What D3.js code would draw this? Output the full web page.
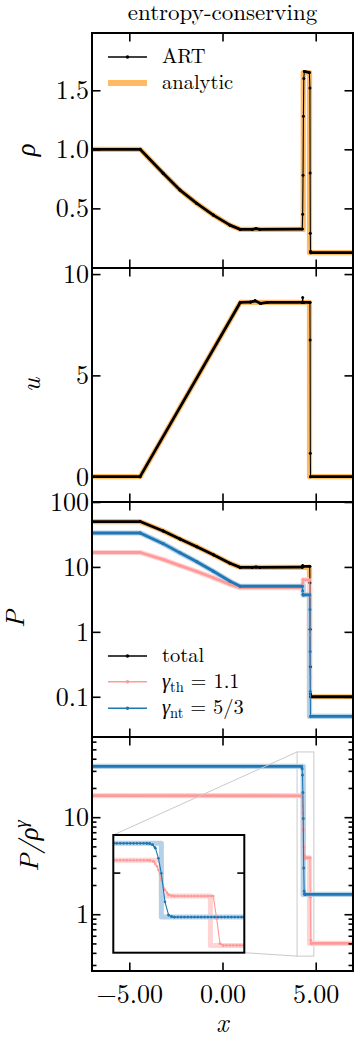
<!DOCTYPE html>
<html>
<head>
<meta charset="utf-8">
<script src="https://cdn.jsdelivr.net/npm/d3@7"></script>
<style>
  body { margin: 0; background: #fff; }
  svg { display: block; }
  svg text { font-family: "Latin Modern Roman", "Liberation Serif", serif !important; fill: #000; }
</style>
</head>
<body>
<svg id="chart" width="354" height="1039"></svg>
<script>
// ---------- shared x axis ----------
const xTicks = [-5, 0, 5];
const xTickLabels = ["\u22125.00", "0.00", "5.00"];

// ---------- density ----------
const rhoTicks = [0.5, 1.0, 1.5];
const rhoTickLabels = ["0.5", "1.0", "1.5"];
const rhoAnaX = [-7, -4.42, -3.18, -2.28, -1.38, -0.49, 0.40, 0.95, 4.33, 4.33, 4.667, 4.667, 7];
const rhoAnaY = [1, 1, 0.797, 0.655, 0.542, 0.443, 0.358, 0.322, 0.322, 1.65, 1.65, 0.125, 0.125];
const rhoArtX = [-7, -4.42, -3.18, -2.28, -1.38, -0.49, 0.40, 0.95, 1.6, 1.8, 2.0, 4.28, 4.30, 4.32, 4.34, 4.36, 4.39, 4.66, 4.69, 4.70, 4.71, 4.72, 4.74, 7];
const rhoArtY = [1, 1, 0.797, 0.655, 0.542, 0.443, 0.358, 0.322, 0.322, 0.328, 0.322, 0.325, 0.45, 0.78, 1.28, 1.60, 1.66, 1.65, 1.52, 0.80, 0.29, 0.135, 0.125, 0.125];

// ---------- velocity ----------
const uTicks = [0, 5, 10];
const uTickLabels = ["0", "5", "10"];
const uAnaX = [-7, -4.42, 0.95, 4.667, 4.667, 7];
const uAnaY = [0, 0, 8.6, 8.6, 0, 0];
const uArtX = [-7, -4.42, 0.95, 1.5, 1.75, 2.05, 2.4, 4.28, 4.30, 4.32, 4.34, 4.68, 4.69, 4.70, 4.71, 4.72, 7];
const uArtY = [0, 0, 8.6, 8.62, 8.68, 8.55, 8.6, 8.6, 8.85, 8.6, 8.6, 8.6, 8.6, 6.74, 1.16, 0, 0];

// ---------- pressure (total, thermal, non-thermal) ----------
const pTicks = [0.1, 1, 10, 100];
const pTickLabels = ["0.1", "1", "10", "100"];
const pTotAnaX = [-7, -4.42, -3.18, -2.28, -1.38, -0.49, 0.40, 0.95, 4.667, 4.667, 7];
const pTotAnaY = [50, 50, 35.8, 26.9, 20.5, 15.4, 11.4, 9.83, 9.83, 0.1, 0.1];
const pPartAnaX = [-7, -4.42, -3.18, -2.28, -1.38, -0.49, 0.40, 0.95, 4.33, 4.33, 4.667, 4.667, 7];
const pThAnaY = [16.67, 16.67, 12.98, 10.47, 8.50, 6.81, 5.38, 4.79, 4.79, 6.3, 6.3, 0.05, 0.05];
const pNtAnaY = [33.33, 33.33, 22.83, 16.47, 12.0, 8.57, 6.02, 5.04, 5.04, 3.7, 3.7, 0.05, 0.05];
const pTotArtX = [-7, -4.42, -3.18, -2.28, -1.38, -0.49, 0.40, 0.95, 1.6, 1.8, 2.0, 4.28, 4.30, 4.32, 4.68, 4.69, 4.70, 4.71, 4.72, 4.73, 7];
const pTotArtY = [50, 50, 35.8, 26.9, 20.5, 15.4, 11.4, 9.83, 9.83, 9.95, 9.83, 9.9, 10.4, 10.2, 10.2, 5.7, 1.1, 0.29, 0.11, 0.10, 0.10];
const pPartArtX = [-7, -4.42, -3.18, -2.28, -1.38, -0.49, 0.40, 0.95, 4.28, 4.30, 4.32, 4.34, 4.68, 4.69, 4.70, 4.71, 4.72, 7];
const pThArtY = [16.67, 16.67, 12.98, 10.47, 8.5, 6.81, 5.38, 4.79, 4.79, 5.6, 6.3, 6.3, 6.3, 3.5, 0.9, 0.2, 0.05, 0.05];
const pNtArtY = [33.33, 33.33, 22.83, 16.47, 12.0, 8.57, 6.02, 5.04, 5.04, 4.3, 3.75, 3.7, 3.7, 2.2, 0.5, 0.12, 0.05, 0.05];

// ---------- entropy proxy P / rho^gamma ----------
const kTicks = [1, 10];
const kTickLabels = ["1", "10"];
const kNtAnaX = [-7, 4.33, 4.33, 7];
const kNtAnaY = [33.33, 33.33, 1.6, 1.6];
const kThAnaX = [-7, 4.33, 4.33, 4.667, 4.667, 7];
const kThAnaY = [16.67, 16.67, 3.8, 3.8, 0.5, 0.5];
const kNtArtX = [-7, 4.23, 4.25, 4.27, 4.29, 4.31, 4.33, 4.355, 4.38, 4.40, 4.42, 7];
const kNtArtY = [33.33, 33.3, 33.0, 31.5, 27.2, 18.0, 9.7, 3.0, 1.74, 1.63, 1.6, 1.6];
const kThArtX = [-7, 4.25, 4.275, 4.30, 4.31, 4.33, 4.355, 4.38, 4.40, 4.42, 4.687, 4.71, 4.733, 4.755, 7];
const kThArtY = [16.67, 16.6, 16.0, 13.0, 11.1, 7.4, 4.9, 4.0, 3.85, 3.8, 3.8, 1.5, 0.54, 0.5, 0.5];

// zoomed window shown in the inset
const insetXDomain = [4.0, 4.9];
const insetYDomain = [0.37, 47];
const insetYTicks = [10];

// ---------- styling ----------
const C = {
  art: "#000000",
  ana: "#ffbb63",
  th: "#ff9a9a",
  thAna: "#ffd4d4",
  nt: "#1f77b4",
  ntAna: "#b3d1e8",
  zoom: "#c9c9c9"
};
const L = 92, R = 353;
const tickFont = 26;

const svg = d3.select("#chart");
const x = d3.scaleLinear([-7, 7], [L, R]);

const panels = [
  { top: 33,  bot: 268, y: d3.scaleLinear([-0.005, 1.985], [268, 33]), ticks: rhoTicks, labels: rhoTickLabels },
  { top: 268, bot: 502, y: d3.scaleLinear([-1.25, 10.3], [502, 268]), ticks: uTicks, labels: uTickLabels },
  { top: 502, bot: 737, y: d3.scaleLog([0.024, 100], [737, 502]), ticks: pTicks, labels: pTickLabels },
  { top: 737, bot: 971, y: d3.scaleLog([0.26, 67], [971, 737]), ticks: kTicks, labels: kTickLabels, minor: true, xLabels: true }
];

const defs = svg.append("defs");
panels.forEach((p, i) => {
  defs.append("clipPath").attr("id", "clip" + i)
    .append("rect").attr("x", L).attr("y", p.top).attr("width", R - L).attr("height", p.bot - p.top);
});

function pts(xs, ys) { return xs.map((v, i) => [v, ys[i]]); }

function anaLine(g, xs, ys, sx, sy, color, w) {
  g.append("path").datum(pts(xs, ys))
    .attr("d", d3.line().x(d => sx(d[0])).y(d => sy(d[1])))
    .attr("fill", "none").attr("stroke", color).attr("stroke-width", w)
    .attr("stroke-linejoin", "round");
}

// simulated profile: wide where cells crowd together, thin across jumps, a marker at each cell
function artLine(g, xs, ys, sx, sy, color, opt) {
  const P = pts(xs, ys).map(d => [sx(d[0]), sy(d[1])]);
  const segs = d3.pairs(P);
  const steep = s => Math.abs(s[1][1] - s[0][1]) > 5 * Math.abs(s[1][0] - s[0][0]);
  g.append("g").selectAll("line").data(segs).join("line")
    .attr("x1", d => d[0][0]).attr("y1", d => d[0][1])
    .attr("x2", d => d[1][0]).attr("y2", d => d[1][1])
    .attr("stroke", color)
    .attr("stroke-width", d => steep(d) ? opt.thin : opt.thick)
    .attr("stroke-linecap", "round");
  if (opt.dotted) {
    g.append("g").selectAll("line")
      .data(segs.filter(s => Math.abs(s[1][1] - s[0][1]) < 2 * Math.abs(s[1][0] - s[0][0])))
      .join("line")
      .attr("x1", d => d[0][0]).attr("y1", d => d[0][1])
      .attr("x2", d => d[1][0]).attr("y2", d => d[1][1])
      .attr("stroke", color).attr("stroke-width", 2.6)
      .attr("stroke-linecap", "round").attr("stroke-dasharray", "0 3.35");
  }
  g.append("g").selectAll("circle").data(P).join("circle")
    .attr("cx", d => d[0]).attr("cy", d => d[1]).attr("r", opt.r).attr("fill", color);
}
const mainArt = { thin: 1.1, thick: 2.8, r: 1.5 };

// ---------- panel contents ----------
const g0 = svg.append("g").attr("clip-path", "url(#clip0)");
anaLine(g0, rhoAnaX, rhoAnaY, x, panels[0].y, C.ana, 5.2);
artLine(g0, rhoArtX, rhoArtY, x, panels[0].y, C.art, mainArt);

const g1 = svg.append("g").attr("clip-path", "url(#clip1)");
anaLine(g1, uAnaX, uAnaY, x, panels[1].y, C.ana, 5.2);
artLine(g1, uArtX, uArtY, x, panels[1].y, C.art, mainArt);

const g2 = svg.append("g").attr("clip-path", "url(#clip2)");
anaLine(g2, pTotAnaX, pTotAnaY, x, panels[2].y, C.ana, 5.2);
anaLine(g2, pPartAnaX, pThAnaY, x, panels[2].y, C.thAna, 5.2);
anaLine(g2, pPartAnaX, pNtAnaY, x, panels[2].y, C.ntAna, 5.2);
artLine(g2, pTotArtX, pTotArtY, x, panels[2].y, C.art, mainArt);
artLine(g2, pPartArtX, pThArtY, x, panels[2].y, C.th, mainArt);
artLine(g2, pPartArtX, pNtArtY, x, panels[2].y, C.nt, mainArt);

const ky = panels[3].y;
const g3 = svg.append("g").attr("clip-path", "url(#clip3)");
// outline of the zoomed window
g3.append("rect")
  .attr("x", x(insetXDomain[0])).attr("y", ky(insetYDomain[1]))
  .attr("width", x(insetXDomain[1]) - x(insetXDomain[0]))
  .attr("height", ky(insetYDomain[0]) - ky(insetYDomain[1]))
  .attr("fill", "none").attr("stroke", C.zoom).attr("stroke-width", 1);
anaLine(g3, kThAnaX, kThAnaY, x, ky, C.thAna, 5.2);
anaLine(g3, kNtAnaX, kNtAnaY, x, ky, C.ntAna, 5.2);
artLine(g3, kThArtX, kThArtY, x, ky, C.th, mainArt);
artLine(g3, kNtArtX, kNtArtY, x, ky, C.nt, mainArt);

// ---------- axes and frames ----------
function styleAxis(g) {
  g.select(".domain").remove();
  g.selectAll(".tick line").attr("stroke", "#000").attr("stroke-width", 1.6);
  g.attr("font-size", tickFont);
  g.selectAll(".tick text").attr("fill", "#000");
}
panels.forEach(p => {
  svg.append("g").attr("transform", `translate(${L},0)`)
    .call(d3.axisLeft(p.y).tickValues(p.ticks).tickFormat((d, i) => p.labels[i]).tickSize(-8.5).tickPadding(3))
    .call(styleAxis);
  svg.append("g").attr("transform", `translate(${R},0)`)
    .call(d3.axisRight(p.y).tickValues(p.ticks).tickFormat("").tickSize(-8.5))
    .call(styleAxis);
  svg.append("g").attr("transform", `translate(0,${p.top})`)
    .call(d3.axisTop(x).tickValues(xTicks).tickFormat("").tickSize(-8.5))
    .call(styleAxis);
  svg.append("g").attr("transform", `translate(0,${p.bot})`)
    .call(d3.axisBottom(x).tickValues(xTicks)
      .tickFormat((d, i) => p.xLabels ? xTickLabels[i] : "").tickSize(-8.5).tickPadding(13.5))
    .call(styleAxis);
  if (p.minor) {
    const [lo, hi] = p.y.domain();
    const minorVals = p.y.ticks(20).filter(v => v >= lo && v <= hi && !p.ticks.includes(v));
    svg.append("g").attr("transform", `translate(${L},0)`)
      .call(d3.axisLeft(p.y).tickValues(minorVals).tickFormat("").tickSize(-4.5)).call(styleAxis);
    svg.append("g").attr("transform", `translate(${R},0)`)
      .call(d3.axisRight(p.y).tickValues(minorVals).tickFormat("").tickSize(-4.5)).call(styleAxis);
  }
  svg.append("rect").attr("x", L).attr("y", p.top).attr("width", R - L).attr("height", p.bot - p.top)
    .attr("fill", "none").attr("stroke", "#000").attr("stroke-width", 2);
});

// ---------- inset ----------
const IX0 = 113.3, IX1 = 244.3, IY0 = 835, IY1 = 952.7;
const ix = d3.scaleLinear(insetXDomain, [IX0, IX1]);
const iy = d3.scaleLog(insetYDomain, [IY1, IY0]);

// connector lines between window and inset
svg.append("line").attr("x1", IX0).attr("y1", IY0)
  .attr("x2", x(insetXDomain[0])).attr("y2", ky(insetYDomain[1]))
  .attr("stroke", C.zoom).attr("stroke-width", 1);
svg.append("line").attr("x1", IX1).attr("y1", IY1)
  .attr("x2", x(insetXDomain[0])).attr("y2", ky(insetYDomain[0]))
  .attr("stroke", C.zoom).attr("stroke-width", 1);

defs.append("clipPath").attr("id", "clipInset")
  .append("rect").attr("x", IX0).attr("y", IY0).attr("width", IX1 - IX0).attr("height", IY1 - IY0);
svg.append("rect").attr("x", IX0).attr("y", IY0).attr("width", IX1 - IX0).attr("height", IY1 - IY0)
  .attr("fill", "#fff");
const gi = svg.append("g").attr("clip-path", "url(#clipInset)");
anaLine(gi, kThAnaX, kThAnaY, ix, iy, C.thAna, 5);
anaLine(gi, kNtAnaX, kNtAnaY, ix, iy, C.ntAna, 5);
const insetArt = { thin: 1.1, thick: 1.1, r: 1.3, dotted: true };
artLine(gi, kThArtX, kThArtY, ix, iy, C.th, insetArt);
artLine(gi, kNtArtX, kNtArtY, ix, iy, C.nt, insetArt);
svg.append("g").attr("transform", `translate(${IX0},0)`)
  .call(d3.axisLeft(iy).tickValues(insetYTicks).tickFormat("").tickSize(-7)).call(styleAxis);
svg.append("g").attr("transform", `translate(${IX1},0)`)
  .call(d3.axisRight(iy).tickValues(insetYTicks).tickFormat("").tickSize(-7)).call(styleAxis);
svg.append("rect").attr("x", IX0).attr("y", IY0).attr("width", IX1 - IX0).attr("height", IY1 - IY0)
  .attr("fill", "none").attr("stroke", "#000").attr("stroke-width", 2);

// ---------- text ----------
svg.append("text").attr("x", (L + R) / 2).attr("y", 20).attr("text-anchor", "middle")
  .attr("font-size", 23).text("entropy-conserving");

function yLabel(xp, yp, build) {
  const t = svg.append("text").attr("transform", `translate(${xp},${yp}) rotate(-90)`)
    .attr("text-anchor", "middle").attr("font-size", 26.5).attr("font-style", "italic");
  build(t);
}
yLabel(35, 150, t => t.text("\u03C1"));
yLabel(40, 385, t => t.text("u"));
yLabel(24, 619, t => t.text("P"));
yLabel(38, 846, t => {
  t.append("tspan").text("P/\u03C1");
  t.append("tspan").attr("font-size", 19).attr("dy", -11).text("\u03B3");
});
svg.append("text").attr("x", (L + R) / 2).attr("y", 1032).attr("text-anchor", "middle")
  .attr("font-size", 26.5).attr("font-style", "italic").text("x");

// ---------- legends ----------
function legendSwatch(y, color, width, dot) {
  svg.append("line").attr("x1", 108).attr("x2", 147).attr("y1", y).attr("y2", y)
    .attr("stroke", color).attr("stroke-width", width);
  if (dot) svg.append("circle").attr("cx", 127.5).attr("cy", y).attr("r", 1.8).attr("fill", color);
}
const legFont = 20.5;
legendSwatch(57, C.art, 1.5, true);
svg.append("text").attr("x", 162).attr("y", 63).attr("font-size", legFont).text("ART");
legendSwatch(83, C.ana, 6, false);
svg.append("text").attr("x", 162).attr("y", 89).attr("font-size", legFont).text("analytic");

legendSwatch(656, C.art, 1.5, true);
svg.append("text").attr("x", 162).attr("y", 661.7).attr("font-size", legFont).text("total");

function gammaLabel(y, sub, rest) {
  const t = svg.append("text").attr("x", 162).attr("y", y).attr("font-size", legFont);
  t.append("tspan").attr("font-style", "italic").text("\u03B3");
  t.append("tspan").attr("font-size", 14.5).attr("dy", 4).text(sub);
  t.append("tspan").attr("dy", -4).text(" = " + rest);
}
legendSwatch(681.7, C.th, 1.5, true);
gammaLabel(687.5, "th", "1.1");
legendSwatch(708.3, C.nt, 1.5, true);
gammaLabel(713.5, "nt", "5/3");
</script>
</body>
</html>
